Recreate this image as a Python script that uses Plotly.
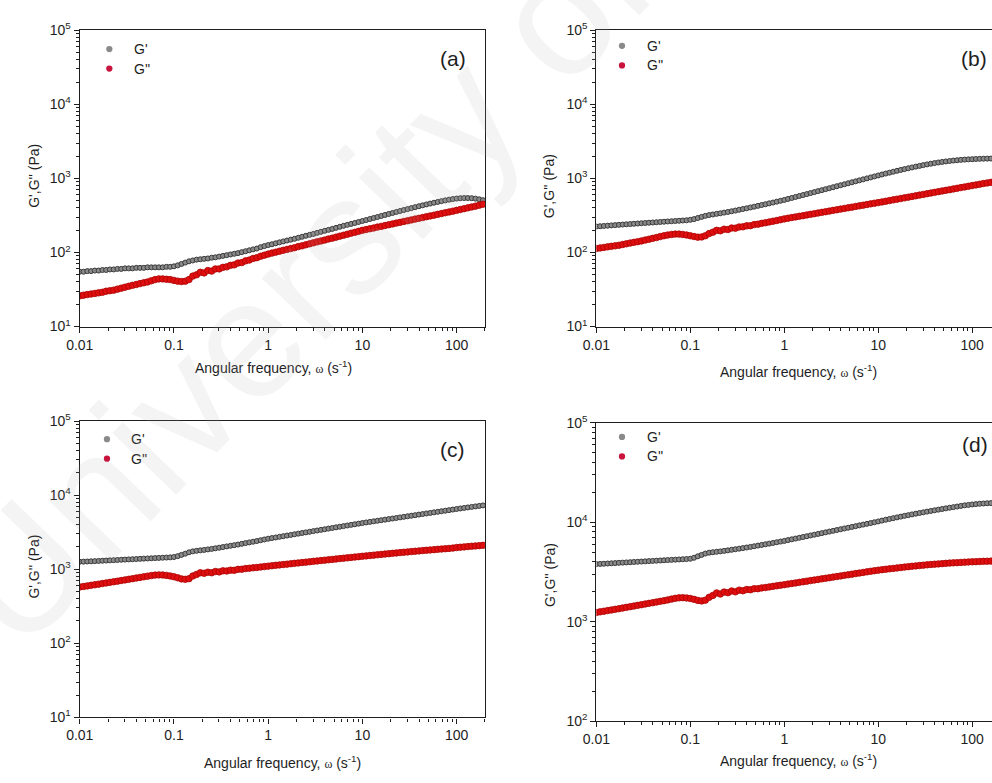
import plotly.graph_objects as go

# Angular frequency sweep (rad/s), 25 points per decade
FREQ = [
    0.0100, 0.01096, 0.01202, 0.01318, 0.01445, 0.01585, 0.01738, 0.01905, 0.02089, 0.02291,
    0.02512, 0.02754, 0.03020, 0.03311, 0.03631, 0.03981, 0.04365, 0.04786, 0.05248, 0.05754,
    0.06310, 0.06918, 0.07586, 0.08318, 0.09120,
    0.1000, 0.1096, 0.1202, 0.1318, 0.1445, 0.1585, 0.1738, 0.1905, 0.2089, 0.2291,
    0.2512, 0.2754, 0.3020, 0.3311, 0.3631, 0.3981, 0.4365, 0.4786, 0.5248, 0.5754,
    0.6310, 0.6918, 0.7586, 0.8318, 0.9120,
    1.000, 1.096, 1.202, 1.318, 1.445, 1.585, 1.738, 1.905, 2.089, 2.291,
    2.512, 2.754, 3.020, 3.311, 3.631, 3.981, 4.365, 4.786, 5.248, 5.754,
    6.310, 6.918, 7.586, 8.318, 9.120,
    10.00, 10.96, 12.02, 13.18, 14.45, 15.85, 17.38, 19.05, 20.89, 22.91,
    25.12, 27.54, 30.20, 33.11, 36.31, 39.81, 43.65, 47.86, 52.48, 57.54,
    63.10, 69.18, 75.86, 83.18, 91.20,
    100.0, 109.6, 120.2, 131.8, 144.5, 158.5, 173.8, 190.5,
]

# (a) storage / loss modulus, Pa
A_GP = [
    55, 55, 56, 56, 57, 57, 58, 58, 59, 59, 60, 60, 61, 61, 61, 62, 62, 62, 63, 63, 63, 63, 63, 64, 64,
    65, 67, 70, 73, 76, 78, 80, 81, 82, 83, 85, 86, 88, 90, 92, 94, 96, 98, 101, 104, 107, 110, 113, 118, 122,
    126, 129, 133, 137, 141, 145, 149, 153, 158, 163, 168, 173, 178, 184, 190, 196, 202, 208, 215, 222, 229, 236, 243, 250, 258,
    266, 274, 283, 292, 301, 311, 321, 331, 341, 352, 363, 374, 385, 397, 409, 421, 433, 445, 457, 469, 481, 493, 505, 516, 526,
    534, 540, 543, 543, 540, 533, 522, 508,
]
A_GPP = [
    26, 26.5, 27, 27.5, 28, 28.5, 29, 30, 30.5, 31, 32, 33, 34, 35, 36, 37, 38, 39, 40, 41.5, 43, 44, 44, 43.5, 43,
    42, 41, 40.5, 41, 43, 48, 50, 54, 53, 57, 56, 60, 60, 63, 64, 67, 68, 72, 73, 77, 79, 83, 85, 89, 92,
    95, 98, 101, 104, 107, 110, 113, 116, 120, 123, 127, 131, 135, 139, 143, 147, 152, 156, 161, 166, 171, 176, 182, 187, 193,
    199, 204, 209, 214, 220, 225, 231, 237, 243, 249, 255, 262, 268, 275, 282, 289, 296, 304, 311, 319, 327, 335, 344, 352, 361,
    370, 380, 390, 400, 411, 422, 435, 448,
]

# (b)
B_GP = [
    224, 226, 228, 230, 232, 234, 236, 238, 240, 242, 244, 246, 248, 250, 252, 254, 256, 258, 260, 262, 264, 266, 268, 270, 272,
    276, 282, 292, 302, 312, 320, 326, 332, 338, 345, 352, 360, 368, 377, 386, 395, 405, 415, 426, 437, 448, 460, 472, 485, 498,
    512, 528, 544, 561, 578, 596, 614, 633, 653, 673, 694, 715, 737, 760, 784, 808, 833, 859, 886, 913, 941, 970, 1000, 1031, 1063,
    1095, 1128, 1162, 1196, 1230, 1265, 1300, 1335, 1370, 1405, 1440, 1475, 1510, 1545, 1578, 1610, 1640, 1668, 1694, 1718, 1740, 1760, 1778, 1793, 1806,
    1817, 1827, 1836, 1843, 1848, 1852, 1855, 1856,
]
B_GPP = [
    113, 115, 117, 119, 121, 123, 125, 128, 131, 134, 137, 140, 143, 147, 151, 155, 159, 164, 168, 172, 175, 177, 177, 175, 172,
    168, 164, 161, 162, 168, 180, 188, 199, 196, 206, 204, 214, 213, 221, 222, 229, 230, 238, 241, 247, 252, 258, 264, 270, 277,
    284, 290, 296, 302, 308, 314, 321, 327, 334, 341, 348, 355, 362, 370, 377, 385, 393, 401, 409, 418, 426, 435, 444, 453, 462,
    471, 481, 491, 502, 513, 524, 535, 546, 558, 570, 582, 595, 608, 621, 634, 648, 662, 676, 690, 705, 720, 735, 751, 767, 783,
    800, 817, 834, 851, 868, 885, 902, 918,
]

# (c)
C_GP = [
    1260, 1265, 1270, 1278, 1285, 1292, 1300, 1308, 1316, 1324, 1332, 1340, 1348, 1356, 1364, 1372, 1380, 1388, 1396, 1404, 1412, 1420, 1428, 1436, 1444,
    1460, 1500, 1560, 1620, 1690, 1740, 1770, 1795, 1820, 1850, 1880, 1915, 1950, 1990, 2030, 2070, 2110, 2150, 2200, 2250, 2300, 2350, 2400, 2460, 2520,
    2580, 2630, 2680, 2735, 2790, 2845, 2900, 2960, 3020, 3080, 3140, 3200, 3265, 3330, 3395, 3460, 3530, 3600, 3670, 3740, 3815, 3890, 3965, 4040, 4120,
    4200, 4275, 4350, 4425, 4505, 4585, 4665, 4745, 4830, 4915, 5000, 5090, 5180, 5270, 5360, 5455, 5550, 5650, 5750, 5850, 5950, 6055, 6160, 6270, 6380,
    6490, 6600, 6710, 6820, 6930, 7040, 7150, 7260,
]
C_GPP = [
    575, 585, 595, 606, 617, 628, 640, 652, 664, 677, 690, 703, 717, 731, 745, 760, 775, 790, 805, 820, 832, 838, 835, 825, 810,
    790, 765, 740, 730, 745, 810, 850, 895, 880, 910, 895, 930, 920, 950, 945, 970, 965, 995, 1000, 1020, 1030, 1045, 1055, 1070, 1085,
    1100, 1114, 1128, 1142, 1156, 1170, 1185, 1200, 1215, 1230, 1245, 1260, 1276, 1292, 1308, 1324, 1340, 1356, 1373, 1390, 1407, 1424, 1441, 1458, 1476,
    1495, 1512, 1530, 1548, 1566, 1584, 1602, 1620, 1638, 1656, 1674, 1692, 1710, 1728, 1746, 1764, 1782, 1800, 1818, 1836, 1854, 1872, 1890, 1908, 1926,
    1960, 1980, 2000, 2020, 2040, 2060, 2080, 2100,
]

# (d)
D_GP = [
    3800, 3815, 3830, 3850, 3870, 3890, 3910, 3930, 3950, 3970, 3990, 4010, 4030, 4050, 4070, 4090, 4110, 4130, 4150, 4170, 4190, 4210, 4230, 4250, 4270,
    4300, 4400, 4550, 4700, 4850, 4950, 5000, 5050, 5100, 5160, 5220, 5290, 5360, 5430, 5500, 5580, 5660, 5740, 5830, 5920, 6010, 6100, 6200, 6300, 6400,
    6500, 6620, 6740, 6860, 6985, 7110, 7240, 7370, 7505, 7640, 7780, 7920, 8065, 8210, 8360, 8510, 8665, 8820, 8980, 9145, 9310, 9480, 9650, 9825, 10005,
    10200, 10400, 10600, 10800, 11000, 11200, 11400, 11600, 11800, 12000, 12200, 12400, 12600, 12800, 13000, 13200, 13400, 13600, 13800, 14000, 14200, 14400, 14600, 14800, 14950,
    15100, 15230, 15350, 15450, 15530, 15590, 15630, 15650,
]
D_GPP = [
    1240, 1258, 1276, 1295, 1314, 1334, 1354, 1375, 1396, 1418, 1440, 1462, 1485, 1508, 1532, 1556, 1580, 1605, 1630, 1660, 1690, 1720, 1740, 1745, 1735,
    1715, 1680, 1640, 1620, 1650, 1760, 1840, 1950, 1900, 1990, 1960, 2040, 2000, 2080, 2050, 2110, 2100, 2150, 2150, 2190, 2210, 2240, 2270, 2300, 2330,
    2360, 2392, 2424, 2457, 2490, 2524, 2558, 2593, 2628, 2664, 2700, 2737, 2774, 2812, 2850, 2889, 2928, 2968, 3008, 3049, 3090, 3132, 3175, 3218, 3262,
    3300, 3335, 3370, 3405, 3440, 3475, 3510, 3545, 3580, 3615, 3645, 3675, 3705, 3735, 3765, 3790, 3815, 3840, 3865, 3890, 3910, 3930, 3950, 3970, 3990,
    4005, 4020, 4035, 4050, 4060, 4070, 4080, 4090,
]

X_TICKS = [0.01, 0.1, 1, 10, 100]
X_TICK_TEXT = ["0.01", "0.1", "1", "10", "100"]
X_MINOR = [m * d for d in (0.01, 0.1, 1, 10, 100) for m in range(2, 10)]
SERIES_NAMES = ["G'", "G''"]
LEGEND_COLORS = ["#8a8a8a", "#c8143c"]

W, H = 992, 783
FONT = "Arial, 'Liberation Sans', sans-serif"
INK = "#1e1e1e"


def fx(p):
    return p / W


def fy(p):
    return 1 - p / H


# pixel frame of each panel: left, right, top, bottom; log ranges
PANELS = [
    dict(tag="(a)", l=66.7, r=477.7, t=20.7, b=324.0, xr=(-2, 2.301), yr=(1, 5), gp=A_GP, gpp=A_GPP,
         right=True, lab=(445, 50), xt=(263, 365), yt=(20, 170), leg=(96.7, 40, 120)),
    dict(tag="(b)", l=590.7, r=992.0, t=20.7, b=324.0, xr=(-2, 2.211), yr=(1, 5), gp=B_GP, gpp=B_GPP,
         right=False, lab=(974, 50), xt=(796, 370), yt=(543, 180), leg=(616.7, 36.7, 640)),
    dict(tag="(c)", l=66.7, r=477.7, t=420.7, b=724.0, xr=(-2, 2.301), yr=(1, 5), gp=C_GP, gpp=C_GPP,
         right=True, lab=(445, 450), xt=(272, 770), yt=(20, 570), leg=(94.3, 439.3, 116.7)),
    dict(tag="(d)", l=590.7, r=992.0, t=422.5, b=728.0, xr=(-2, 2.211), yr=(2, 5), gp=D_GP, gpp=D_GPP,
         right=False, lab=(975, 445), xt=(796, 768), yt=(543, 578), leg=(616.7, 437, 640)),
]

fig = go.Figure()
annotations = []
shapes = []

for i, p in enumerate(PANELS):
    n = "" if i == 0 else str(i + 1)
    xa, ya = "x" + n, "y" + n

    fig.add_trace(go.Scatter(
        x=FREQ, y=p["gp"], mode="markers", name="G'", xaxis=xa, yaxis=ya, showlegend=False,
        marker=dict(symbol="circle", size=5, color="#8a8a8a", line=dict(color="#3a3a3a", width=1)),
    ))
    fig.add_trace(go.Scatter(
        x=FREQ, y=p["gpp"], mode="markers", name="G''", xaxis=xa, yaxis=ya, showlegend=False,
        marker=dict(symbol="circle", size=6.5, color="#e00e0e", line=dict(color="#aa0505", width=0.8)),
    ))

    ylo, yhi = p["yr"]
    y_ticks = [10 ** k for k in range(ylo, yhi + 1)]
    y_text = ["10<sup>%d</sup>" % k for k in range(ylo, yhi + 1)]
    y_minor = [m * 10 ** k for k in range(ylo, yhi) for m in range(2, 10)]

    common = dict(
        type="log", showgrid=False, zeroline=False, showline=True, linecolor=INK, linewidth=1.3,
        ticks="outside", ticklen=5, tickwidth=1.1, tickcolor=INK,
        tickfont=dict(family=FONT, size=14, color=INK),
    )
    fig.layout["xaxis" + n] = dict(
        common, domain=[fx(p["l"]), fx(p["r"])], range=list(p["xr"]), anchor=ya, mirror=True,
        tickmode="array", tickvals=X_TICKS, ticktext=X_TICK_TEXT,
        minor=dict(tickmode="array", tickvals=X_MINOR, ticks="outside", ticklen=3, tickwidth=1, tickcolor=INK),
    )
    fig.layout["yaxis" + n] = dict(
        common, domain=[fy(p["b"]), fy(p["t"])], range=list(p["yr"]), anchor=xa, mirror=p["right"],
        tickmode="array", tickvals=y_ticks, ticktext=y_text,
        minor=dict(tickmode="array", tickvals=y_minor, ticks="outside", ticklen=3, tickwidth=1, tickcolor=INK),
    )

    # legend: dot + label per series
    mx, my, tx = p["leg"]
    for k, (name, col) in enumerate(zip(SERIES_NAMES, LEGEND_COLORS)):
        cy = my + 20 * k
        shapes.append(dict(
            type="circle", xref="paper", yref="paper", layer="above",
            x0=fx(mx - 3.2), x1=fx(mx + 3.2), y0=fy(cy + 3.2), y1=fy(cy - 3.2),
            fillcolor=col, line=dict(width=0),
        ))
        annotations.append(dict(
            text=name, x=fx(tx), y=fy(cy), xref="paper", yref="paper",
            showarrow=False, xanchor="left", yanchor="middle",
            font=dict(family=FONT, size=14, color=INK),
        ))

    annotations.append(dict(
        text=p["tag"], x=fx(p["lab"][0]), y=fy(p["lab"][1]), xref="paper", yref="paper",
        showarrow=False, xanchor="center", yanchor="middle",
        font=dict(family=FONT, size=21, color=INK),
    ))
    annotations.append(dict(
        text="Angular frequency, <span style='font-family:Liberation Serif, serif;font-size:12px'>ω</span> (s<sup>-1</sup>)",
        x=fx(p["xt"][0]), y=fy(p["xt"][1]), xref="paper", yref="paper",
        showarrow=False, xanchor="center", yanchor="middle",
        font=dict(family=FONT, size=14, color=INK),
    ))
    annotations.append(dict(
        text="G',G'' (Pa)", x=fx(p["yt"][0]), y=fy(p["yt"][1]), xref="paper", yref="paper",
        showarrow=False, xanchor="center", yanchor="middle", textangle=-90,
        font=dict(family=FONT, size=14, color=INK),
    ))

# faint diagonal watermark
annotations.append(dict(
    text="University of", x=fx(289), y=fy(280), xref="paper", yref="paper",
    showarrow=False, textangle=-46, xanchor="center", yanchor="middle",
    font=dict(family=FONT, size=168, color="rgba(170,170,170,0.13)"),
))

fig.update_layout(
    width=W, height=H, margin=dict(l=0, r=0, t=0, b=0),
    paper_bgcolor="white", plot_bgcolor="white",
    showlegend=False, annotations=annotations, shapes=shapes,
)

fig.write_html("out.html")
